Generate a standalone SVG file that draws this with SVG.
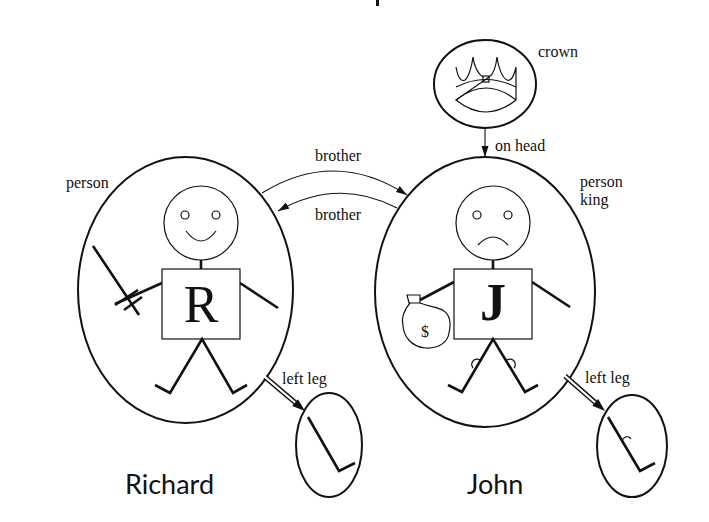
<svg xmlns="http://www.w3.org/2000/svg" width="709" height="522" viewBox="0 0 709 522">
<style>
.bg{fill:#fff}
.oval{fill:none;stroke:#111;stroke-width:2}
.thin{fill:none;stroke:#111;stroke-width:1.2}
.limb{fill:none;stroke:#111;stroke-width:2.6;stroke-linecap:butt;stroke-linejoin:miter}
.box{fill:#fff;stroke:#111;stroke-width:1.2}
.conn{fill:none;stroke:#111;stroke-width:1.1}
.lbl{font-family:"Liberation Serif","Times New Roman",serif;font-size:16px;fill:#111}
.big{font-family:"Liberation Serif","Times New Roman",serif;font-size:52px;fill:#111}
.name{font-family:Lato,"Open Sans",sans-serif;font-size:27px;fill:#111}
</style>
<defs>
<marker id="arr" markerUnits="userSpaceOnUse" markerWidth="12" markerHeight="8" refX="11" refY="4" orient="auto">
<path d="M0,0.5 L11,4 L0,7.5 Z" fill="#111"/>
</marker>
<path id="dhead" d="M0,0 L-13,-4.5 L-13,4.5 Z" fill="#111"/>
</defs>
<rect class="bg" x="0" y="0" width="709" height="522"/>
<rect x="376" y="0" width="3" height="6" fill="#111"/>

<g id="richard">
<ellipse class="oval" cx="185.5" cy="290" rx="107.5" ry="133"/>
<text class="lbl" x="66" y="188">person</text>
<circle class="thin" cx="201" cy="223" r="37"/>
<circle class="thin" cx="185" cy="215" r="4"/>
<circle class="thin" cx="216" cy="215" r="4"/>
<path class="thin" d="M186,231 Q201,251 216,231"/>
<line class="limb" x1="201" y1="260" x2="201" y2="269"/>
<line class="limb" x1="162" y1="283" x2="115" y2="304"/>
<line class="limb" x1="240" y1="283" x2="278" y2="308"/>
<line class="limb" x1="93" y1="246" x2="139" y2="315"/>
<line class="limb" x1="115" y1="305" x2="138" y2="290"/>
<line class="limb" x1="124" y1="310" x2="142" y2="297"/>
<rect class="box" x="162" y="269" width="78" height="70"/>
<text class="big" x="201" y="322" text-anchor="middle">R</text>
<polyline class="limb" points="155,385 170,393 202,339 233,393 247,385"/>
<text class="name" x="125" y="494">Richard</text>
</g>

<g id="richard-leg">
<ellipse class="oval" cx="329" cy="445" rx="33" ry="52"/>
<polyline class="limb" points="308,417 339,471 355,463"/>
</g>

<g id="john">
<ellipse class="oval" cx="485" cy="292" rx="110" ry="135"/>
<text class="lbl" x="580" y="187">person</text>
<text class="lbl" x="580" y="205">king</text>
<circle class="thin" cx="493" cy="223" r="37"/>
<circle class="thin" cx="477" cy="215" r="4"/>
<circle class="thin" cx="508" cy="215" r="4"/>
<path class="thin" d="M478,245 Q493,229 508,245"/>
<line class="limb" x1="493" y1="260" x2="493" y2="269"/>
<line class="limb" x1="454" y1="282" x2="420" y2="300"/>
<line class="limb" x1="532" y1="282" x2="570" y2="307"/>
<rect class="box" x="454" y="269" width="78" height="70"/>
<text class="big" x="493" y="320" text-anchor="middle" font-weight="bold">J</text>
<path class="limb" d="M448,385 L462,392 L493,339 L525,392 L538,385"/>
<path class="thin" stroke-width="1.6" d="M473,368 A4.5,4.5 0 0 1 481,361"/>
<path class="thin" stroke-width="1.6" d="M506,361 A4.5,4.5 0 0 1 514,368"/>
<g id="moneybag">
<path class="thin" stroke-width="1.8" d="M407,295 L420,295 L420,303 L409,303 Z"/>
<path class="thin" stroke-width="1.8" d="M410,303 C404,310 401,318 403,326 C404,336 410,346 425,348 C440,349 448,341 449,333 C451,324 451,316 444,311 C439,307 430,307 420,303"/>
<text class="lbl" x="425" y="337" text-anchor="middle" font-size="15">$</text>
</g>
<text class="name" x="467" y="494">John</text>
</g>

<g id="john-leg">
<ellipse class="oval" cx="632" cy="446" rx="35" ry="51"/>
<polyline class="limb" points="608,417 640,471 655,463"/>
<path class="thin" stroke-width="1.6" d="M623,444 A4.5,4.5 0 0 1 631,439"/>
</g>

<g id="crown">
<ellipse class="oval" cx="485" cy="84" rx="51" ry="44"/>
<text class="lbl" x="538" y="57">crown</text>
<path class="thin" stroke-width="1.7" stroke-linejoin="miter" d="M456,67 C458,78 461,82 465,80 C469,77 472,65 473,57 C474,66 478,74 483,77 M489,77 C494,74 496,66 497,57 C498,66 502,78 507,80 C511,82 514,76 516,67 L516,100 Q486,124 456,100 Z"/>
<rect class="thin" stroke-width="1.6" x="483" y="76" width="6" height="6"/>
<path class="thin" stroke-width="1.7" d="M456,87 Q486,72 516,87"/>
<path class="thin" stroke-width="1.7" d="M456,100 Q486,76 516,100"/>
</g>

<g id="connectors">
<line class="conn" x1="485" y1="128" x2="485" y2="157" marker-end="url(#arr)"/>
<text class="lbl" x="495" y="151">on head</text>
<path class="conn" d="M262,193 Q335,148 407,195" marker-end="url(#arr)"/>
<text class="lbl" x="338" y="161" text-anchor="middle">brother</text>
<path class="conn" d="M397,208 Q338,177 278,211" marker-end="url(#arr)"/>
<text class="lbl" x="338" y="220" text-anchor="middle">brother</text>
<line x1="265" y1="377" x2="297.4" y2="404.4" stroke="#111" stroke-width="5"/>
<line x1="264" y1="376.2" x2="298" y2="405" stroke="#fff" stroke-width="2.2"/>
<use href="#dhead" transform="translate(305,411) rotate(40.4)"/>
<text class="lbl" x="282" y="384">left leg</text>
<line x1="565" y1="376" x2="597.5" y2="404.4" stroke="#111" stroke-width="5"/>
<line x1="564" y1="375.2" x2="598" y2="405" stroke="#fff" stroke-width="2.2"/>
<use href="#dhead" transform="translate(605,411) rotate(41.2)"/>
<text class="lbl" x="585" y="383">left leg</text>
</g>
</svg>
